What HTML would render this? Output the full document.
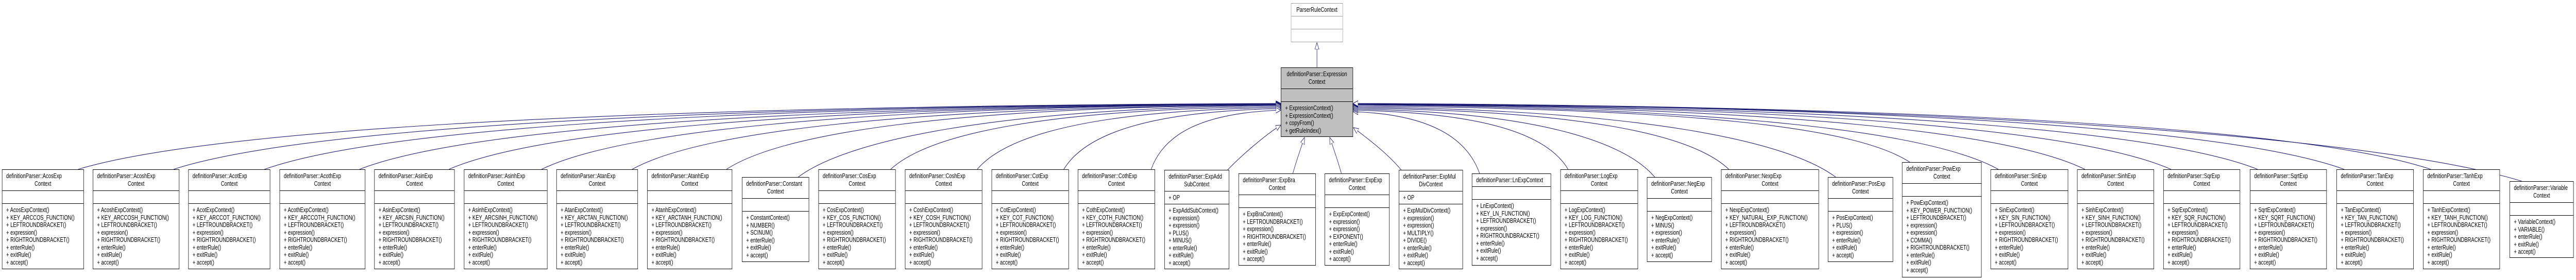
<!DOCTYPE html>
<html><head><meta charset="utf-8">
<style>
html,body{margin:0;padding:0;overflow:hidden;}
body{background:#fff;font-family:"Liberation Sans",sans-serif;}
#w{position:relative;width:6635px;height:544px;overflow:hidden;transform-origin:0 0;}
svg{position:absolute;left:0;top:0;}
.b{position:absolute;border:1px solid #000;background:#fff;font-size:12.5px;color:#000;box-sizing:border-box;white-space:nowrap;overflow:hidden;}
.t{height:41px;border-bottom:1px solid #000;box-sizing:border-box;padding-top:5px;line-height:15px;overflow:hidden;}
.t1{height:25px;}
.t div:first-child{padding-left:10px;}
.t .c{text-align:center;}
.a{height:25px;border-bottom:1px solid #000;box-sizing:border-box;padding-left:10px;line-height:25px;}
.m{padding:5px 0 0 10px;line-height:14.5px;overflow:hidden;}
.g{background:#bfbfbf;}
.p{border-color:#a0a0a0;}
.p .t,.p .a{border-color:#a0a0a0;}
</style></head><body><div id="w">
<svg width="6635" height="544" viewBox="0 0 6635 544" xmlns="http://www.w3.org/2000/svg" style="overflow:hidden">
<defs><marker id="ar" markerUnits="userSpaceOnUse" markerWidth="16" markerHeight="14" refX="13" refY="5.5" orient="auto"><path d="M0,0 L13,5.5 L0,11 z" fill="#fff" stroke="#191970" stroke-width="1"/></marker></defs>
<g fill="none" stroke="#191970" stroke-width="1.1" marker-end="url(#ar)">
<path d="M3392,131 L3392,83"/>
<path d="M201,329 C511,259 1440,206 3299,201"/>
<path d="M447,329 C732,259 1588,206 3299,201.5"/>
<path d="M681,329 C943,259 1728,206 3299,202"/>
<path d="M926,329 C1163,259 1875,207 3299,202.5"/>
<path d="M1156,329 C1370,259 2013,207 3299,203"/>
<path d="M1395,329 C1585,259 2157,207 3299,203"/>
<path d="M1628,329 C1795,259 2296,208 3299,204"/>
<path d="M1871,329 C2014,259 2442,208 3299,204"/>
<path d="M2056,344 C2180,274 2553,210 3299,205"/>
<path d="M2294,329 C2394,259 2696,212 3299,207"/>
<path d="M2517,329 C2595,259 2830,214 3299,209"/>
<path d="M2740,329 C2796,259 2964,216 3299,211"/>
<path d="M2965,329 C2998,259 3099,219 3299,214"/>
<path d="M3162,330 C3200,300 3260,262 3299,243"/>
<path d="M3330,337 C3340,310 3352,285 3360,267"/>
<path d="M3455,337 C3445,310 3433,285 3425,267"/>
<path d="M3609,330 C3570,295 3520,268 3486,248"/>
<path d="M3811,337 C3778,267 3681,222 3485,217"/>
<path d="M4039,329 C3984,259 3817,219 3485,214"/>
<path d="M4262,344 C4184,274 3951,217 3485,212"/>
<path d="M4453,329 C4356,259 4066,215 3485,210"/>
<path d="M4728,344 C4604,274 4231,213 3485,208"/>
<path d="M4919,315 C4776,245 4345,211 3485,206"/>
<path d="M5147,329 C4981,259 4482,209 3485,204"/>
<path d="M5370,329 C5182,259 4616,208 3485,203"/>
<path d="M5592,329 C5381,259 4749,207 3485,202.5"/>
<path d="M5815,329 C5582,259 4883,207 3485,202"/>
<path d="M6038,329 C5783,259 5017,206 3485,201.5"/>
<path d="M6261,329 C5983,259 5151,206 3485,201"/>
<path d="M6495,352 C6194,282 5291,206 3485,201"/>
</g>
</svg>

<div class="b p" style="left:3325px;top:6px;width:134px;height:76px;"><div class="t t1" style="text-align:center;padding-top:0;line-height:25px;"><div class="c" style="padding:0">ParserRuleContext</div></div><div class="a"></div></div>

<div class="b g" style="left:3299px;top:131px;width:186px;height:135px;"><div class="t"><div class="c" style="padding:0">definitionParser::Expression</div><div class="c">Context</div></div><div class="a"></div><div class="m">+ ExpressionContext()<br>+ ExpressionContext()<br>+ copyFrom()<br>+ getRuleIndex()</div></div>

<div class="b" style="left:5px;top:329px;width:211px;height:194px;"><div class="t"><div>definitionParser::AcosExp</div><div class="c">Context</div></div><div class="a"></div><div class="m">+ AcosExpContext()<br>+ KEY_ARCCOS_FUNCTION()<br>+ LEFTROUNDBRACKET()<br>+ expression()<br>+ RIGHTROUNDBRACKET()<br>+ enterRule()<br>+ exitRule()<br>+ accept()</div></div>
<div class="b" style="left:239px;top:329px;width:223px;height:194px;"><div class="t"><div>definitionParser::AcoshExp</div><div class="c">Context</div></div><div class="a"></div><div class="m">+ AcoshExpContext()<br>+ KEY_ARCCOSH_FUNCTION()<br>+ LEFTROUNDBRACKET()<br>+ expression()<br>+ RIGHTROUNDBRACKET()<br>+ enterRule()<br>+ exitRule()<br>+ accept()</div></div>
<div class="b" style="left:485px;top:329px;width:211px;height:194px;"><div class="t"><div>definitionParser::AcotExp</div><div class="c">Context</div></div><div class="a"></div><div class="m">+ AcotExpContext()<br>+ KEY_ARCCOT_FUNCTION()<br>+ LEFTROUNDBRACKET()<br>+ expression()<br>+ RIGHTROUNDBRACKET()<br>+ enterRule()<br>+ exitRule()<br>+ accept()</div></div>
<div class="b" style="left:720px;top:329px;width:221px;height:194px;"><div class="t"><div>definitionParser::AcothExp</div><div class="c">Context</div></div><div class="a"></div><div class="m">+ AcothExpContext()<br>+ KEY_ARCCOTH_FUNCTION()<br>+ LEFTROUNDBRACKET()<br>+ expression()<br>+ RIGHTROUNDBRACKET()<br>+ enterRule()<br>+ exitRule()<br>+ accept()</div></div>
<div class="b" style="left:964px;top:329px;width:207px;height:194px;"><div class="t"><div>definitionParser::AsinExp</div><div class="c">Context</div></div><div class="a"></div><div class="m">+ AsinExpContext()<br>+ KEY_ARCSIN_FUNCTION()<br>+ LEFTROUNDBRACKET()<br>+ expression()<br>+ RIGHTROUNDBRACKET()<br>+ enterRule()<br>+ exitRule()<br>+ accept()</div></div>
<div class="b" style="left:1195px;top:329px;width:215px;height:194px;"><div class="t"><div>definitionParser::AsinhExp</div><div class="c">Context</div></div><div class="a"></div><div class="m">+ AsinhExpContext()<br>+ KEY_ARCSINH_FUNCTION()<br>+ LEFTROUNDBRACKET()<br>+ expression()<br>+ RIGHTROUNDBRACKET()<br>+ enterRule()<br>+ exitRule()<br>+ accept()</div></div>
<div class="b" style="left:1433px;top:329px;width:210px;height:194px;"><div class="t"><div>definitionParser::AtanExp</div><div class="c">Context</div></div><div class="a"></div><div class="m">+ AtanExpContext()<br>+ KEY_ARCTAN_FUNCTION()<br>+ LEFTROUNDBRACKET()<br>+ expression()<br>+ RIGHTROUNDBRACKET()<br>+ enterRule()<br>+ exitRule()<br>+ accept()</div></div>
<div class="b" style="left:1667px;top:329px;width:219px;height:194px;"><div class="t"><div>definitionParser::AtanhExp</div><div class="c">Context</div></div><div class="a"></div><div class="m">+ AtanhExpContext()<br>+ KEY_ARCTANH_FUNCTION()<br>+ LEFTROUNDBRACKET()<br>+ expression()<br>+ RIGHTROUNDBRACKET()<br>+ enterRule()<br>+ exitRule()<br>+ accept()</div></div>
<div class="b" style="left:1911px;top:344px;width:173px;height:165px;"><div class="t"><div>definitionParser::Constant</div><div class="c">Context</div></div><div class="a"></div><div class="m">+ ConstantContext()<br>+ NUMBER()<br>+ SCINUM()<br>+ enterRule()<br>+ exitRule()<br>+ accept()</div></div>
<div class="b" style="left:2108px;top:329px;width:199px;height:194px;"><div class="t"><div>definitionParser::CosExp</div><div class="c">Context</div></div><div class="a"></div><div class="m">+ CosExpContext()<br>+ KEY_COS_FUNCTION()<br>+ LEFTROUNDBRACKET()<br>+ expression()<br>+ RIGHTROUNDBRACKET()<br>+ enterRule()<br>+ exitRule()<br>+ accept()</div></div>
<div class="b" style="left:2331px;top:329px;width:199px;height:194px;"><div class="t"><div>definitionParser::CoshExp</div><div class="c">Context</div></div><div class="a"></div><div class="m">+ CoshExpContext()<br>+ KEY_COSH_FUNCTION()<br>+ LEFTROUNDBRACKET()<br>+ expression()<br>+ RIGHTROUNDBRACKET()<br>+ enterRule()<br>+ exitRule()<br>+ accept()</div></div>
<div class="b" style="left:2554px;top:329px;width:199px;height:194px;"><div class="t"><div>definitionParser::CotExp</div><div class="c">Context</div></div><div class="a"></div><div class="m">+ CotExpContext()<br>+ KEY_COT_FUNCTION()<br>+ LEFTROUNDBRACKET()<br>+ expression()<br>+ RIGHTROUNDBRACKET()<br>+ enterRule()<br>+ exitRule()<br>+ accept()</div></div>
<div class="b" style="left:2776px;top:329px;width:199px;height:194px;"><div class="t"><div>definitionParser::CothExp</div><div class="c">Context</div></div><div class="a"></div><div class="m">+ CothExpContext()<br>+ KEY_COTH_FUNCTION()<br>+ LEFTROUNDBRACKET()<br>+ expression()<br>+ RIGHTROUNDBRACKET()<br>+ enterRule()<br>+ exitRule()<br>+ accept()</div></div>
<div class="b" style="left:2999px;top:330px;width:167px;height:193px;"><div class="t"><div>definitionParser::ExpAdd</div><div class="c">SubContext</div></div><div class="a">+ OP</div><div class="m">+ ExpAddSubContext()<br>+ expression()<br>+ expression()<br>+ PLUS()<br>+ MINUS()<br>+ enterRule()<br>+ exitRule()<br>+ accept()</div></div>
<div class="b" style="left:3190px;top:337px;width:199px;height:179px;"><div class="t"><div>definitionParser::ExpBra</div><div class="c">Context</div></div><div class="a"></div><div class="m">+ ExpBraContext()<br>+ LEFTROUNDBRACKET()<br>+ expression()<br>+ RIGHTROUNDBRACKET()<br>+ enterRule()<br>+ exitRule()<br>+ accept()</div></div>
<div class="b" style="left:3412px;top:337px;width:167px;height:179px;"><div class="t"><div>definitionParser::ExpExp</div><div class="c">Context</div></div><div class="a"></div><div class="m">+ ExpExpContext()<br>+ expression()<br>+ expression()<br>+ EXPONENT()<br>+ enterRule()<br>+ exitRule()<br>+ accept()</div></div>
<div class="b" style="left:3603px;top:330px;width:165px;height:193px;"><div class="t"><div>definitionParser::ExpMul</div><div class="c">DivContext</div></div><div class="a">+ OP</div><div class="m">+ ExpMulDivContext()<br>+ expression()<br>+ expression()<br>+ MULTIPLY()<br>+ DIVIDE()<br>+ enterRule()<br>+ exitRule()<br>+ accept()</div></div>
<div class="b" style="left:3791px;top:337px;width:204px;height:179px;"><div class="t t1"><div>definitionParser::LnExpContext</div></div><div class="a"></div><div class="m">+ LnExpContext()<br>+ KEY_LN_FUNCTION()<br>+ LEFTROUNDBRACKET()<br>+ expression()<br>+ RIGHTROUNDBRACKET()<br>+ enterRule()<br>+ exitRule()<br>+ accept()</div></div>
<div class="b" style="left:4019px;top:329px;width:200px;height:194px;"><div class="t"><div>definitionParser::LogExp</div><div class="c">Context</div></div><div class="a"></div><div class="m">+ LogExpContext()<br>+ KEY_LOG_FUNCTION()<br>+ LEFTROUNDBRACKET()<br>+ expression()<br>+ RIGHTROUNDBRACKET()<br>+ enterRule()<br>+ exitRule()<br>+ accept()</div></div>
<div class="b" style="left:4242px;top:344px;width:167px;height:165px;"><div class="t"><div>definitionParser::NegExp</div><div class="c">Context</div></div><div class="a"></div><div class="m">+ NegExpContext()<br>+ MINUS()<br>+ expression()<br>+ enterRule()<br>+ exitRule()<br>+ accept()</div></div>
<div class="b" style="left:4433px;top:329px;width:252px;height:194px;"><div class="t"><div>definitionParser::NexpExp</div><div class="c">Context</div></div><div class="a"></div><div class="m">+ NexpExpContext()<br>+ KEY_NATURAL_EXP_FUNCTION()<br>+ LEFTROUNDBRACKET()<br>+ expression()<br>+ RIGHTROUNDBRACKET()<br>+ enterRule()<br>+ exitRule()<br>+ accept()</div></div>
<div class="b" style="left:4708px;top:344px;width:168px;height:165px;"><div class="t"><div>definitionParser::PosExp</div><div class="c">Context</div></div><div class="a"></div><div class="m">+ PosExpContext()<br>+ PLUS()<br>+ expression()<br>+ enterRule()<br>+ exitRule()<br>+ accept()</div></div>
<div class="b" style="left:4899px;top:315px;width:205px;height:224px;"><div class="t"><div>definitionParser::PowExp</div><div class="c">Context</div></div><div class="a"></div><div class="m">+ PowExpContext()<br>+ KEY_POWER_FUNCTION()<br>+ LEFTROUNDBRACKET()<br>+ expression()<br>+ expression()<br>+ COMMA()<br>+ RIGHTROUNDBRACKET()<br>+ enterRule()<br>+ exitRule()<br>+ accept()</div></div>
<div class="b" style="left:5127px;top:329px;width:200px;height:194px;"><div class="t"><div>definitionParser::SinExp</div><div class="c">Context</div></div><div class="a"></div><div class="m">+ SinExpContext()<br>+ KEY_SIN_FUNCTION()<br>+ LEFTROUNDBRACKET()<br>+ expression()<br>+ RIGHTROUNDBRACKET()<br>+ enterRule()<br>+ exitRule()<br>+ accept()</div></div>
<div class="b" style="left:5350px;top:329px;width:198px;height:194px;"><div class="t"><div>definitionParser::SinhExp</div><div class="c">Context</div></div><div class="a"></div><div class="m">+ SinhExpContext()<br>+ KEY_SINH_FUNCTION()<br>+ LEFTROUNDBRACKET()<br>+ expression()<br>+ RIGHTROUNDBRACKET()<br>+ enterRule()<br>+ exitRule()<br>+ accept()</div></div>
<div class="b" style="left:5572px;top:329px;width:198px;height:194px;"><div class="t"><div>definitionParser::SqrExp</div><div class="c">Context</div></div><div class="a"></div><div class="m">+ SqrExpContext()<br>+ KEY_SQR_FUNCTION()<br>+ LEFTROUNDBRACKET()<br>+ expression()<br>+ RIGHTROUNDBRACKET()<br>+ enterRule()<br>+ exitRule()<br>+ accept()</div></div>
<div class="b" style="left:5795px;top:329px;width:198px;height:194px;"><div class="t"><div>definitionParser::SqrtExp</div><div class="c">Context</div></div><div class="a"></div><div class="m">+ SqrtExpContext()<br>+ KEY_SQRT_FUNCTION()<br>+ LEFTROUNDBRACKET()<br>+ expression()<br>+ RIGHTROUNDBRACKET()<br>+ enterRule()<br>+ exitRule()<br>+ accept()</div></div>
<div class="b" style="left:6018px;top:329px;width:199px;height:194px;"><div class="t"><div>definitionParser::TanExp</div><div class="c">Context</div></div><div class="a"></div><div class="m">+ TanExpContext()<br>+ KEY_TAN_FUNCTION()<br>+ LEFTROUNDBRACKET()<br>+ expression()<br>+ RIGHTROUNDBRACKET()<br>+ enterRule()<br>+ exitRule()<br>+ accept()</div></div>
<div class="b" style="left:6241px;top:329px;width:198px;height:194px;"><div class="t"><div>definitionParser::TanhExp</div><div class="c">Context</div></div><div class="a"></div><div class="m">+ TanhExpContext()<br>+ KEY_TANH_FUNCTION()<br>+ LEFTROUNDBRACKET()<br>+ expression()<br>+ RIGHTROUNDBRACKET()<br>+ enterRule()<br>+ exitRule()<br>+ accept()</div></div>
<div class="b" style="left:6464px;top:352px;width:165px;height:149px;"><div class="t"><div>definitionParser::Variable</div><div class="c">Context</div></div><div class="a"></div><div class="m">+ VariableContext()<br>+ VARIABLE()<br>+ enterRule()<br>+ exitRule()<br>+ accept()</div></div>
</div>
<script>
(function(){
var w=document.getElementById('w');
var vw=window.innerWidth||document.documentElement.clientWidth;
var vh=window.innerHeight||document.documentElement.clientHeight;
if(vw&&vh&&(vw!==6635||vh!==544)){
w.style.transform='scale('+(vw/6635)+','+(vh/544)+')';
}
})();
</script>
</body></html>
